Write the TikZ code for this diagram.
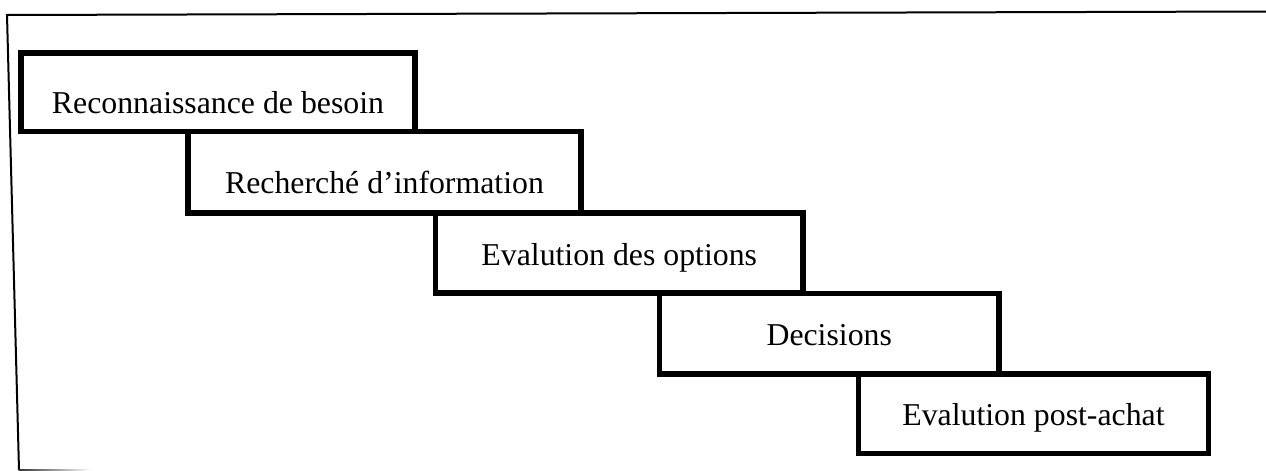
\documentclass[tikz,border=0pt]{standalone}
\usepackage{fontspec}
\setmainfont{Liberation Serif}
\begin{document}
\begin{tikzpicture}[x=0.5pt,y=-0.5pt,
  stepbox/.style={draw=black, line width=2.75pt, fill=white, inner sep=0pt,
    text depth=0pt, text height=12pt, align=center,
    font=\fontsize{15.9pt}{19pt}\selectfont},
  lowtext/.style={text height=21pt}]
\useasboundingbox (0,0) rectangle (1266,471);

% slightly tilted outer frame
\draw[line width=1pt] (1266,11.5) -- (7,15) -- (19,470);
\shade[left color=black!80, right color=white] (18.5,469) rectangle (90,471);

% staircase of process steps
\node[stepbox, lowtext, minimum width=197pt, minimum height=39.25pt]
  (s1) at (218,92.25) {Reconnaissance de besoin};
\node[stepbox, lowtext, minimum width=196.5pt, minimum height=40.75pt]
  (s2) at (384.5,172.25) {Recherché d’information};
\node[stepbox, minimum width=183.75pt, minimum height=40pt]
  (s3) at (619.25,253) {Evalution des options};
\node[stepbox, minimum width=169.75pt, minimum height=40.25pt]
  (s4) at (829.25,333.75) {Decisions};
\node[stepbox, minimum width=174.8pt, minimum height=39.85pt]
  (s5) at (1033.5,413.85) {Evalution post-achat};
\end{tikzpicture}
\end{document}
